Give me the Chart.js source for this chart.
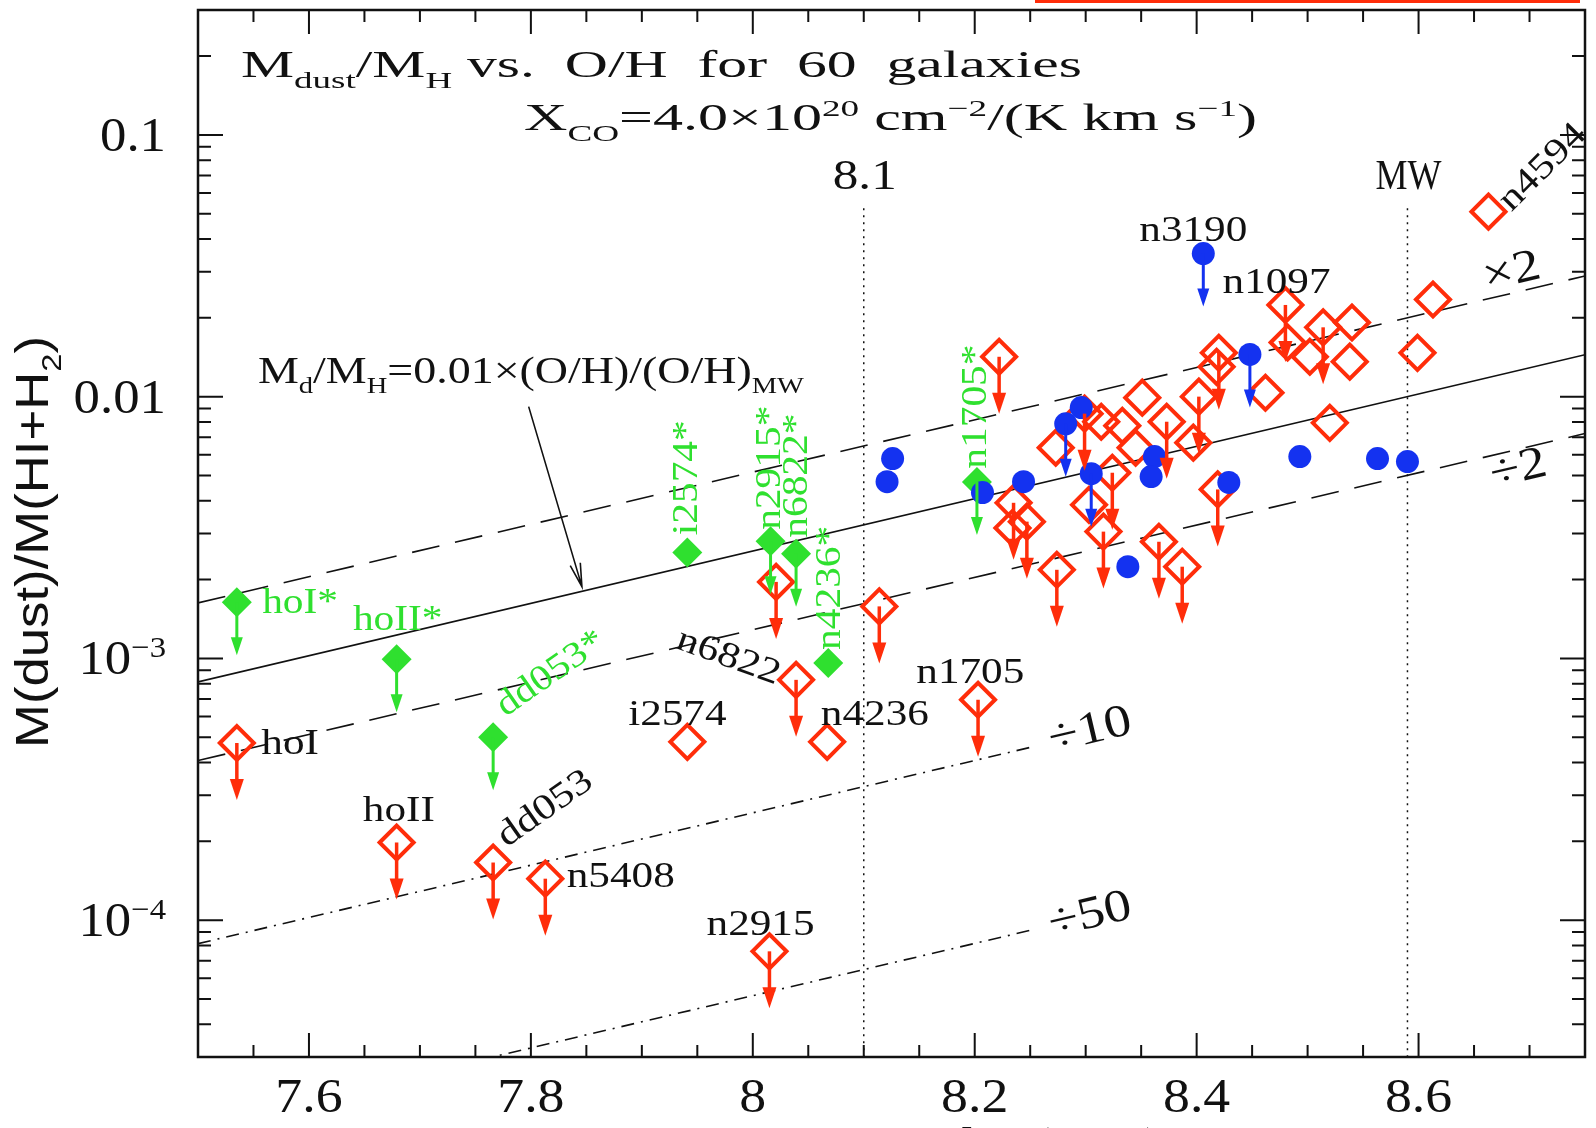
<!DOCTYPE html>
<html>
<head>
<meta charset="utf-8">
<script src="https://cdn.jsdelivr.net/npm/chart.js@4.4.1/dist/chart.umd.min.js"></script>
<style>
  html, body { margin: 0; padding: 0; background: #fff; }
  canvas { display: block; }
</style>
</head>
<body>
<canvas id="dust-oh" width="1596" height="1128"></canvas>
<script>
// x = 12+log(O/H), y = M(dust)/M(HI+H2); limit = 1 means upper limit (arrow)
const blueX = [8.406, 8.448, 8.207, 8.244, 8.282, 8.296, 8.305, 8.362, 8.359, 8.429, 8.338, 8.493, 8.563, 8.590, 8.126, 8.121];
const blueY = [0.0352, 0.0145, 4.30e-3, 4.73e-3, 7.87e-3, 9.08e-3, 5.08e-3, 5.90e-3, 4.95e-3, 4.70e-3, 2.24e-3, 5.90e-3, 5.80e-3, 5.65e-3, 5.80e-3, 4.73e-3];
const blueLimit = [1, 1, 0, 0, 1, 0, 1, 0, 0, 0, 0, 0, 0, 0, 0, 0];

const greenX = [7.535, 7.679, 7.766, 7.941, 8.016, 8.039, 8.068, 8.202];
const greenY = [1.64e-3, 9.93e-4, 5.0e-4, 2.54e-3, 2.80e-3, 2.51e-3, 9.6e-4, 4.72e-3];
const greenLimit = [1, 1, 1, 0, 1, 1, 0, 1];

const redX = [7.535, 7.679, 7.766, 7.813, 8.015, 7.941, 8.021, 8.039, 8.067, 8.114, 8.203, 8.663,
  8.222, 8.273, 8.299, 8.314, 8.333, 8.351, 8.345, 8.373, 8.402, 8.397, 8.420, 8.418,
  8.324, 8.235, 8.234, 8.247, 8.303, 8.316, 8.274, 8.366, 8.387, 8.419,
  8.480, 8.482, 8.514, 8.540, 8.502, 8.538, 8.613, 8.599, 8.520, 8.462];
const redY = [4.75e-4, 1.98e-4, 1.66e-4, 1.44e-4, 7.6e-5, 4.8e-4, 1.96e-3, 8.28e-4, 4.8e-4, 1.58e-3, 6.95e-4, 0.0509,
  0.0142, 6.38e-3, 8.61e-3, 8.02e-3, 7.74e-3, 9.91e-3, 6.38e-3, 8.02e-3, 0.0100, 6.67e-3, 0.0147, 0.0130,
  5.12e-3, 3.93e-3, 3.15e-3, 3.33e-3, 3.86e-3, 3.05e-3, 2.18e-3, 2.79e-3, 2.24e-3, 4.42e-3,
  0.0224, 0.0161, 0.0184, 0.0192, 0.0142, 0.0136, 0.0235, 0.0147, 7.94e-3, 0.01035];
const redLimit = [1, 1, 1, 1, 1, 0, 1, 1, 0, 1, 1, 0,
  1, 0, 1, 0, 0, 0, 0, 1, 1, 0, 1, 0,
  1, 1, 0, 1, 0, 1, 1, 1, 1, 1,
  1, 0, 1, 0, 0, 0, 0, 0, 0, 0];

// Md/MH = 0.01 (O/H)/(O/H)_MW and its x2, /2, /10, /50 copies (end points)
const modelX = [7.5, 8.75];
const modelY = [8.13e-4, 1.445e-2];
const timesTwoY = [1.63e-3, 2.89e-2];
const halfY = [4.07e-4, 7.23e-3];
const shortX = [7.5, 8.25];
const tenthY = [8.13e-5, 4.57e-4];
const fiftiethY = [1.63e-5, 9.14e-5];

// vertical markers: 8.1 and the Milky Way value
const markerX = [8.1, 8.59];
const markerText = ["8.1", "MW"];
const markerSpan = [0.0525, 3e-5];

const xMajorTicks = [7.6, 7.8, 8.0, 8.2, 8.4, 8.6];
const xTickLabels = ["7.6", "7.8", "8", "8.2", "8.4", "8.6"];
const xMinorTicks = [7.55, 7.65, 7.7, 7.75, 7.85, 7.9, 7.95, 8.05, 8.1, 8.15, 8.25, 8.3, 8.35, 8.45, 8.5, 8.55, 8.65, 8.7];
const yMajorTicks = [1e-4, 1e-3, 1e-2, 1e-1];
const yTickLabels = [["10", "−4"], ["10", "−3"], ["0.01"], ["0.1"]];
const yMinorTicks = [4e-5, 5e-5, 6e-5, 7e-5, 8e-5, 9e-5,
  2e-4, 3e-4, 4e-4, 5e-4, 6e-4, 7e-4, 8e-4, 9e-4,
  2e-3, 3e-3, 4e-3, 5e-3, 6e-3, 7e-3, 8e-3, 9e-3,
  0.02, 0.03, 0.04, 0.05, 0.06, 0.07, 0.08, 0.09, 0.2];

// galaxy names: [text, x, y, rotation]
const blackNames = [
  ["n3190", 8.397, 0.0428, 0],
  ["n1097", 8.472, 0.0270, 0],
  ["hoI", 7.583, 4.68e-4, 0],
  ["hoII", 7.681, 2.61e-4, 0],
  ["n5408", 7.881, 1.46e-4, 0],
  ["n2915", 8.007, 9.5e-5, 0],
  ["i2574", 7.932, 6.04e-4, 0],
  ["n4236", 8.110, 6.04e-4, 0],
  ["n1705", 8.196, 8.73e-4, 0],
  ["n6822", 7.978, 1.01e-3, 20],
  ["dd053", 7.813, 2.66e-4, -35],
  ["n4594", 8.712, 0.0750, -45],
];
const greenNames = [
  ["hoI*", 7.592, 1.62e-3, 0],
  ["hoII*", 7.680, 1.39e-3, 0],
  ["dd053*", 7.818, 8.73e-4, -35],
  ["i2574*", 7.941, 4.90e-3, -90],
  ["n2915*", 8.016, 5.35e-3, -90],
  ["n6822*", 8.040, 4.99e-3, -90],
  ["n4236*", 8.070, 1.86e-3, -90],
  ["n1705*", 8.202, 9.16e-3, -90],
];
const lineNotes = [
  ["×2", 8.684, 0.0298],
  ["÷2", 8.690, 5.26e-3],
  ["÷10", 8.304, 5.28e-4],
  ["÷50", 8.304, 1.04e-4],
];
const pointerFrom = [7.798, 9.16e-3];
const pointerTo = [7.846, 1.88e-3];

const BLACK = "#111111";
const RED = "#ff2d0a";
const BLUE = "#1432f0";
const GREEN = "#2fe02f";
const SERIF = '"Liberation Serif", serif';
const SANS = '"Liberation Sans", sans-serif';

const pts = (xs, ys) => xs.map((v, i) => ({ x: v, y: ys[i] }));

// text with sub (-1) / superscript (+1) pieces
function drawRich(ctx, parts, x, y, o) {
  const size = o.size, fam = o.family || SERIF;
  const seg = parts.map(([t, s]) => {
    const fs = s ? size * 0.62 : size;
    ctx.font = fs + "px " + fam;
    return { t, s, fs, w: ctx.measureText(t).width };
  });
  const w = seg.reduce((a, b) => a + b.w, 0);
  const sx = o.width ? o.width / w : (o.stretch || 1);
  ctx.save();
  ctx.translate(x, y);
  if (o.rot) ctx.rotate(o.rot * Math.PI / 180);
  ctx.scale(sx, 1);
  let cx = o.align === "left" ? 0 : o.align === "right" ? -w : -w / 2;
  ctx.fillStyle = o.color || BLACK;
  ctx.textBaseline = o.baseline || "alphabetic";
  ctx.textAlign = "left";
  for (const g of seg) {
    ctx.font = g.fs + "px " + fam;
    const dy = g.s < 0 ? size * 0.28 : g.s > 0 ? -size * 0.36 : 0;
    ctx.fillText(g.t, cx, dy);
    cx += g.w;
  }
  ctx.restore();
}

function limitArrow(ctx, px, py, color, lw, len, head, hw) {
  ctx.strokeStyle = color;
  ctx.fillStyle = color;
  ctx.lineWidth = lw;
  ctx.beginPath();
  ctx.moveTo(px, py);
  ctx.lineTo(px, py + len - head + 2);
  ctx.stroke();
  ctx.beginPath();
  ctx.moveTo(px - hw, py + len - head);
  ctx.lineTo(px + hw, py + len - head);
  ctx.lineTo(px, py + len);
  ctx.closePath();
  ctx.fill();
}

const decor = {
  id: "decor",
  afterDatasetsDraw(chart) {
    const ctx = chart.ctx;
    ctx.save();
    chart.data.datasets.forEach((ds, i) => {
      if (!ds.limits) return;
      chart.getDatasetMeta(i).data.forEach((el, j) => {
        if (!ds.limits[j]) return;
        if (ds.arrowStyle === "red") limitArrow(ctx, el.x, el.y, RED, 3.5, 57, 21, 7);
        else limitArrow(ctx, el.x, el.y, ds.borderColor, 3, 53, 18, 6);
      });
    });
    ctx.restore();
  },
  afterDraw(chart) {
    const { ctx, chartArea: a, scales: { x, y } } = chart;
    ctx.save();

    // frame and inward ticks on all four sides
    ctx.strokeStyle = BLACK;
    ctx.lineWidth = 2.5;
    ctx.strokeRect(a.left, a.top, a.right - a.left, a.bottom - a.top);
    ctx.lineWidth = 2;
    ctx.beginPath();
    const tickX = (v, len) => {
      const p = x.getPixelForValue(v);
      ctx.moveTo(p, a.bottom); ctx.lineTo(p, a.bottom - len);
      ctx.moveTo(p, a.top); ctx.lineTo(p, a.top + len);
    };
    const tickY = (v, len) => {
      const p = y.getPixelForValue(v);
      ctx.moveTo(a.left, p); ctx.lineTo(a.left + len, p);
      ctx.moveTo(a.right, p); ctx.lineTo(a.right - len, p);
    };
    xMajorTicks.forEach(v => tickX(v, 24));
    xMinorTicks.forEach(v => tickX(v, 12));
    yMajorTicks.forEach(v => tickY(v, 25));
    yMinorTicks.forEach(v => tickY(v, 13));
    ctx.stroke();

    // tick labels
    xMajorTicks.forEach((v, i) => {
      drawRich(ctx, [[xTickLabels[i], 0]], x.getPixelForValue(v), a.bottom + 55, { size: 48, stretch: 1.12 });
    });
    yMajorTicks.forEach((v, i) => {
      const l = yTickLabels[i];
      const parts = l.length > 1 ? [[l[0], 0], [l[1], 1]] : [[l[0], 0]];
      drawRich(ctx, parts, 166, y.getPixelForValue(v) + 16, { size: 48, align: "right", stretch: 1.1 });
    });

    // axis titles (bottom one is cut by the page edge)
    drawRich(ctx, [["M(dust)/M(HI+H", 0], ["2", -1], [")", 0]], 48, 542,
      { size: 46, family: SANS, rot: -90, width: 412 });
    drawRich(ctx, [["12+log(O/H)", 0]], 875, 1161, { size: 48, align: "left", stretch: 1.15 });

    // header text
    drawRich(ctx, [["M", 0], ["dust", -1], ["/M", 0], ["H", -1], [" vs.  O/H  for  60  galaxies", 0]],
      241, 77, { size: 38, align: "left", width: 841 });
    drawRich(ctx, [["X", 0], ["CO", -1], ["=4.0×10", 0], ["20", 1], [" cm", 0], ["−2", 1],
      ["/(K km s", 0], ["−1", 1], [")", 0]], 524, 130, { size: 38, align: "left", width: 733 });
    drawRich(ctx, [["M", 0], ["d", -1], ["/M", 0], ["H", -1], ["=0.01×(O/H)/(O/H)", 0], ["MW", -1]],
      258, 383, { size: 37, align: "left", width: 546 });

    // pointer from the formula to the solid line
    const fx = x.getPixelForValue(pointerFrom[0]), fy = y.getPixelForValue(pointerFrom[1]);
    const tx = x.getPixelForValue(pointerTo[0]), ty = y.getPixelForValue(pointerTo[1]);
    const ang = Math.atan2(ty - fy, tx - fx);
    ctx.strokeStyle = BLACK;
    ctx.lineWidth = 1.6;
    ctx.beginPath();
    ctx.moveTo(fx, fy); ctx.lineTo(tx, ty);
    ctx.moveTo(tx - 24 * Math.cos(ang - 0.22), ty - 24 * Math.sin(ang - 0.22));
    ctx.lineTo(tx, ty);
    ctx.lineTo(tx - 24 * Math.cos(ang + 0.22), ty - 24 * Math.sin(ang + 0.22));
    ctx.stroke();

    // marker labels over the dotted lines
    const markerWidth = [64, 66];
    markerX.forEach((v, i) => {
      drawRich(ctx, [[markerText[i], 0]], x.getPixelForValue(v) + 1, 189, { size: 42, width: markerWidth[i] });
    });

    // relation labels, tilted along the lines
    lineNotes.forEach(([t, vx, vy]) => {
      drawRich(ctx, [[t, 0]], x.getPixelForValue(vx), y.getPixelForValue(vy),
        { size: 46, rot: -13.3, baseline: "middle", stretch: 1.18 });
    });

    blackNames.forEach(([t, vx, vy, r]) => {
      drawRich(ctx, [[t, 0]], x.getPixelForValue(vx), y.getPixelForValue(vy),
        { size: 36, rot: r, baseline: "middle", stretch: 1.2 });
    });
    greenNames.forEach(([t, vx, vy, r]) => {
      drawRich(ctx, [[t, 0]], x.getPixelForValue(vx), y.getPixelForValue(vy),
        { size: 36, rot: r, baseline: "middle", stretch: 1.15, color: GREEN });
    });

    // red rule along the top edge of the page
    ctx.fillStyle = RED;
    ctx.fillRect(1035, 0, 545, 3);
    ctx.restore();
  },
};

const lineSet = (xs, ys, dash, order) => ({
  data: pts(xs, ys),
  showLine: true,
  pointRadius: 0,
  borderColor: BLACK,
  borderWidth: 1.6,
  borderDash: dash,
  fill: false,
  order: order,
});

const dustChart = new Chart(document.getElementById("dust-oh"), {
  type: "scatter",
  data: {
    datasets: [
      {
        data: pts(blueX, blueY),
        limits: blueLimit,
        pointStyle: "circle",
        pointRadius: 11.5,
        backgroundColor: BLUE,
        borderColor: BLUE,
        borderWidth: 0,
        order: 1,
      },
      {
        data: pts(redX, redY),
        limits: redLimit,
        arrowStyle: "red",
        pointStyle: "rectRot",
        pointRadius: 17,
        backgroundColor: "rgba(255,255,255,0)",
        borderColor: RED,
        borderWidth: 4,
        order: 2,
      },
      {
        data: pts(greenX, greenY),
        limits: greenLimit,
        pointStyle: "rectRot",
        pointRadius: 15,
        backgroundColor: GREEN,
        borderColor: GREEN,
        borderWidth: 0,
        order: 3,
      },
      lineSet(modelX, modelY, [], 5),
      lineSet(modelX, timesTwoY, [28, 16], 5),
      lineSet(modelX, halfY, [28, 16], 5),
      lineSet(shortX, tenthY, [13, 7, 2, 7], 5),
      lineSet(shortX, fiftiethY, [13, 7, 2, 7], 5),
      {
        data: [{ x: markerX[0], y: markerSpan[0] }, { x: markerX[0], y: markerSpan[1] }],
        showLine: true, pointRadius: 0, borderColor: BLACK, borderWidth: 1.5, borderDash: [2, 5], order: 6,
      },
      {
        data: [{ x: markerX[1], y: markerSpan[0] }, { x: markerX[1], y: markerSpan[1] }],
        showLine: true, pointRadius: 0, borderColor: BLACK, borderWidth: 1.5, borderDash: [2, 5], order: 6,
      },
    ],
  },
  options: {
    responsive: false,
    animation: false,
    devicePixelRatio: 1,
    events: [],
    layout: { autoPadding: false, padding: { left: 198, right: 11, top: 10, bottom: 71 } },
    plugins: {
      legend: { display: false },
      tooltip: { enabled: false },
    },
    scales: {
      x: { type: "linear", min: 7.5, max: 8.75, display: false },
      y: { type: "logarithmic", min: 3e-5, max: 0.3, display: false },
    },
  },
  plugins: [decor],
});
</script>
</body>
</html>
